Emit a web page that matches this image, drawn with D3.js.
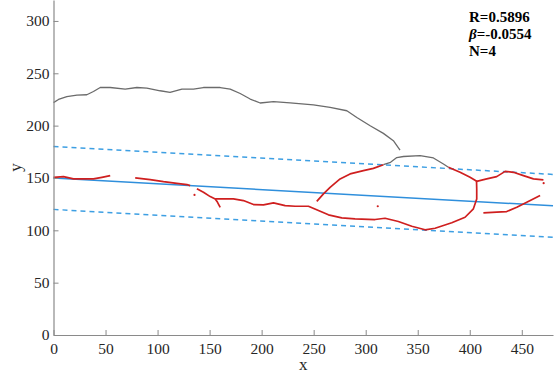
<!DOCTYPE html>
<html><head><meta charset="utf-8">
<script src="https://cdn.jsdelivr.net/npm/d3@7"></script>
<style>body{margin:0;background:#fff}svg{display:block}</style>
</head><body>
<svg id="c" width="555" height="375"></svg>
<script>
// ---- data ----
const xTicks = [0,50,100,150,200,250,300,350,400,450];
const yTicks = [0,50,100,150,200,250,300];
const stats = ["R=0.5896", "-0.0554", "N=4"];
const intercept = 150, beta = -0.0554, band = 30;

const grayTrace1 = [[0,222],[4.8,225],[12.8,227.8],[22.5,229.2],[32,229.5],[38.4,232.6],[44.9,236.4],[54.5,236.4],[68.9,234.9],[80.1,236.4],[89.7,235.8],[102.5,233.3],[112,231.7],[123.4,234.9],[134.5,234.9],[144,236.4],[160.2,236.4],[169.8,234.9],[179.4,230.7],[189,225.4],[198.6,221.6],[211.4,223],[227.4,221.8],[249.8,219.9],[265.8,217.4],[281.9,214.2],[291.5,207.8],[304.3,199.9],[317,192.6],[326.6,185.6],[333,176.7]];
const grayTrace2 = [[317,162.7],[323.9,165],[329.9,169.5],[336.3,170.5],[352.3,171.3],[365.1,169.1],[374.7,163.4],[379.5,160.2]];

const redA = [[0,150.6],[9.6,151.3],[19.2,149.1],[28.8,149.1],[38.4,149.1],[46.5,150.6],[54.5,152.2]];
const redB = [[78.5,150.1],[92.9,148.4],[105.7,146.5],[118.5,144.9],[128.2,143.7],[131.3,142.7]];
const redC = [[137.8,139.6],[144.1,136.3],[150.6,132.2],[155.4,130],[157.5,127],[160.2,122]];
const redD = [[155.4,130],[161.8,130],[172.9,130],[182.5,128.4],[192.2,124.6],[201.8,124.3],[211.4,126.2],[222.6,123.6],[232.2,123],[245,123],[254.6,118.9],[264.2,114.8],[277,111.9],[289.8,111],[309,110.3],[318.6,111.5],[331.4,108.4],[344.3,103.9],[357.1,100.5],[366.7,102],[382.7,107.2],[395.5,112.5],[403.5,120.5],[406.7,130],[406.7,139.6],[406.5,147.5]];
const redE = [[253,127.7],[259.4,134.8],[265.8,141.1],[275.4,149.1],[285,153.9],[297.8,157],[307.4,159.2],[317,162.7]];
const redF = [[379.5,160.2],[390.7,155.4],[400.3,150.6],[406.7,146.8],[416.3,149.1],[425.9,151.3],[434,156.3],[442,155.4],[451.6,152.2],[461.2,149.1],[470.8,148.1]];
const redG = [[413.1,116.7],[425.9,117.3],[435.5,117.9],[445.2,122],[454.8,126.8],[467.6,133.2]];
const redDots = [[135.5,133.8],[311.6,123],[471,145]];

// ---- layout ----
const W = 555, H = 375;
const L = 53.5, R = 553, T = 0, B = 335;
const svg = d3.select("#c");
const x = d3.scaleLinear().domain([0,480]).range([L,R]);
const y = d3.scaleLinear().domain([0,320]).range([B,T]);
const line = d3.line().x(d=>x(d[0])).y(d=>y(d[1]));
const font = "'Liberation Serif','Times New Roman',serif";

// regression lines
const fit = [0,480].map(v=>[v, intercept+beta*v]);
const up = fit.map(d=>[d[0], d[1]+band]);
const lo = fit.map(d=>[d[0], d[1]-band]);
svg.append("path").attr("d",line(up)).attr("fill","none").attr("stroke","#3d9fe3").attr("stroke-width",1.5).attr("stroke-dasharray","5,4");
svg.append("path").attr("d",line(lo)).attr("fill","none").attr("stroke","#3d9fe3").attr("stroke-width",1.5).attr("stroke-dasharray","5,4");
svg.append("path").attr("d",line(fit)).attr("fill","none").attr("stroke","#2f8fdc").attr("stroke-width",1.5);

// traces
[grayTrace1, grayTrace2].forEach(s=>{
  svg.append("path").attr("d",line(s)).attr("fill","none").attr("stroke","#6b6b6b").attr("stroke-width",1.3).attr("stroke-linejoin","round");
});
[redA, redB, redC, redD, redE, redF, redG].forEach(s=>{
  svg.append("path").attr("d",line(s)).attr("fill","none").attr("stroke","#cf1f1f").attr("stroke-width",1.7).attr("stroke-linejoin","round");
});
svg.selectAll("circle.dot").data(redDots).enter().append("circle").attr("class","dot")
  .attr("cx",d=>x(d[0])).attr("cy",d=>y(d[1])).attr("r",1.1).attr("fill","#cf1f1f");

// axes
const gx = svg.append("g").attr("transform",`translate(0,${B})`)
  .call(d3.axisBottom(x).tickValues(xTicks).tickSizeInner(-5).tickSizeOuter(0).tickPadding(8));
const gy = svg.append("g").attr("transform",`translate(${L},0)`)
  .call(d3.axisLeft(y).tickValues(yTicks).tickSizeInner(-5).tickSizeOuter(0).tickPadding(4));
[gx,gy].forEach(g=>{
  g.select(".domain").attr("stroke","#8a8a8a").attr("stroke-width",1.2);
  g.selectAll(".tick line").attr("stroke","#8a8a8a");
  g.selectAll(".tick text").attr("fill","#262626").style("font-family",font).style("font-size","15.5px");
});

// axis labels
svg.append("text").attr("x",(L+R)/2).attr("y",370).attr("text-anchor","middle")
  .style("font-family",font).style("font-size","17px").attr("fill","#262626").text("x");
svg.append("text").attr("transform",`translate(21,${(T+B)/2}) rotate(-90)`).attr("text-anchor","middle")
  .style("font-family",font).style("font-size","17px").attr("fill","#262626").text("y");

// stats
const st = svg.append("g").style("font-family",font).style("font-size","15px").style("font-weight","bold").attr("fill","#000");
st.append("text").attr("x",469).attr("y",22).text(stats[0]);
const t2 = st.append("text").attr("x",469).attr("y",39);
t2.append("tspan").style("font-style","italic").text("β");
t2.append("tspan").text("=" + stats[1]);
st.append("text").attr("x",469).attr("y",56).text(stats[2]);
</script>
</body></html>
